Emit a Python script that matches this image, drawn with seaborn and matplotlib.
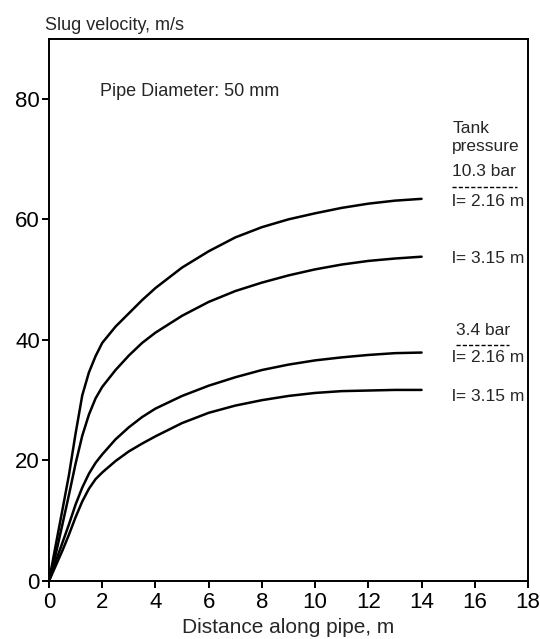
import matplotlib
matplotlib.use("Agg")
import matplotlib.pyplot as plt
from matplotlib import font_manager
import seaborn as sns
import pandas as pd

# ---- data ----
distance_m = [0, 0.25, 0.5, 0.75, 1.0, 1.25, 1.5, 1.75, 2, 2.5, 3, 3.5, 4,
              5, 6, 7, 8, 9, 10, 11, 12, 13, 14]
vel_103bar_216m = [0, 5.9, 11.7, 17.6, 24.5, 30.8, 34.6, 37.3, 39.5, 42.2, 44.4, 46.6, 48.6,
                   52.0, 54.7, 57.0, 58.7, 60.0, 61.0, 61.9, 62.6, 63.1, 63.4]
vel_103bar_315m = [0, 4.4, 9.3, 14.3, 19.5, 24.1, 27.6, 30.3, 32.2, 35.0, 37.4, 39.5, 41.2,
                   44.0, 46.3, 48.1, 49.5, 50.7, 51.7, 52.5, 53.1, 53.5, 53.8]
vel_34bar_216m = [0, 3.2, 6.3, 9.4, 12.7, 15.5, 17.8, 19.6, 21.0, 23.5, 25.5, 27.2, 28.6,
                  30.7, 32.4, 33.8, 35.0, 35.9, 36.6, 37.1, 37.5, 37.8, 37.9]
vel_34bar_315m = [0, 2.5, 5.0, 7.7, 10.6, 13.2, 15.3, 16.9, 18.0, 19.9, 21.5, 22.8, 24.0,
                  26.2, 27.9, 29.1, 30.0, 30.7, 31.2, 31.5, 31.6, 31.7, 31.7]
series_names = ["10.3 bar, l=2.16 m", "10.3 bar, l=3.15 m",
                "3.4 bar, l=2.16 m", "3.4 bar, l=3.15 m"]
x_ticks = [0, 2, 4, 6, 8, 10, 12, 14, 16, 18]
y_ticks = [0, 20, 40, 60, 80]

rows = []
for name, vals in zip(series_names, [vel_103bar_216m, vel_103bar_315m,
                                     vel_34bar_216m, vel_34bar_315m]):
    for d, v in zip(distance_m, vals):
        rows.append({"distance": d, "velocity": v, "series": name})
df = pd.DataFrame(rows)

sns.set_style("ticks")
names = {f.name for f in font_manager.fontManager.ttflist}
fam = "Liberation Sans Narrow" if "Liberation Sans Narrow" in names else "Liberation Sans"
plt.rcParams["font.family"] = [fam, "DejaVu Sans"]
plt.rcParams["axes.linewidth"] = 1.4

fig = plt.figure(figsize=(5.4, 6.39), dpi=100)
ax = fig.add_axes([49 / 540, 1 - 581 / 639, (528 - 49) / 540, (581 - 38.5) / 639])

sns.lineplot(data=df, x="distance", y="velocity", hue="series",
             palette=["black"] * 4, legend=False, linewidth=1.8, ax=ax,
             sort=False, estimator=None)

ax.set_xlim(0, 18)
ax.set_ylim(0, 90)
ax.set_xticks(x_ticks)
ax.set_yticks(y_ticks)
ax.set_xticklabels([str(t) for t in x_ticks])
ax.set_yticklabels([str(t) for t in y_ticks])
ax.tick_params(direction="out", length=5, width=1.4, labelsize=16, colors="black")
ax.tick_params(axis="y", pad=1.5)
ax.tick_params(axis="x", pad=3)
ax.set_xlabel("")
ax.set_ylabel("")
for s in ax.spines.values():
    s.set_visible(True)
    s.set_color("black")

fig.text(45 / 540, 1 - 25 / 639, "Slug velocity, m/s", fontsize=13,
         ha="left", va="center")
fig.text((49 + 528) / 2 / 540, 6 / 639, "Distance along pipe, m", fontsize=15,
         ha="center", va="baseline")

ax.text(1.9, 81.2, "Pipe Diameter: 50 mm", fontsize=13, ha="left", va="center")

lx = 15.15
ax.text(lx, 73.6, "Tank\npressure", fontsize=12.5, ha="left", va="center",
        linespacing=1.3)
ax.text(16.35, 67.9, "10.3 bar", fontsize=12.5, ha="center", va="center")
ax.plot([15.15, 17.6], [65.4, 65.4], color="black", lw=1.0, ls=(0, (3, 1.5)))
ax.text(lx, 62.9, "l= 2.16 m", fontsize=12.5, ha="left", va="center")
ax.text(lx, 53.5, "l= 3.15 m", fontsize=12.5, ha="left", va="center")
ax.text(16.3, 41.5, "3.4 bar", fontsize=12.5, ha="center", va="center")
ax.plot([15.3, 17.3], [39.2, 39.2], color="black", lw=1.0, ls=(0, (3, 1.5)))
ax.text(lx, 37.0, "l= 2.16 m", fontsize=12.5, ha="left", va="center")
ax.text(lx, 30.6, "l= 3.15 m", fontsize=12.5, ha="left", va="center")

fig.savefig("out.png", dpi=100)
